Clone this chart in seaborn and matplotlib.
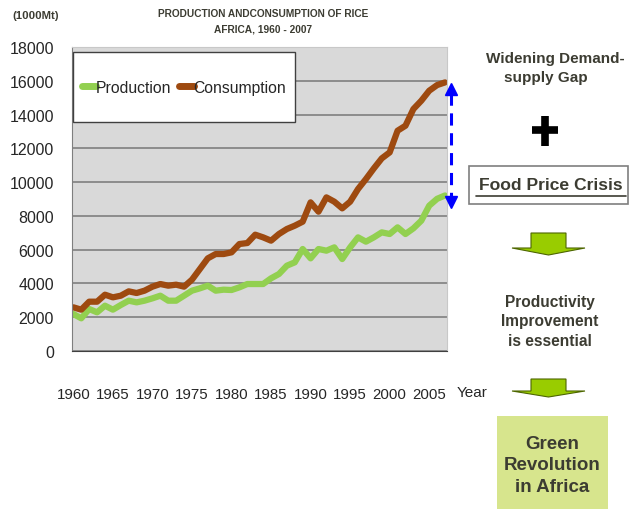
import numpy as np
import pandas as pd
import seaborn as sns
import matplotlib.pyplot as plt
from matplotlib.lines import Line2D
from matplotlib.patches import Polygon, Rectangle

# values (1000 Mt)
years = list(range(1960, 2008))
production = [2190, 1935, 2486, 2289, 2683, 2447, 2723, 2979, 2880, 2979,
              3117, 3275, 2979, 2979, 3275, 3572, 3710, 3868, 3572, 3631,
              3611, 3769, 3966, 3966, 3966, 4302, 4559, 5052, 5249, 6039,
              5486, 6039, 5940, 6137, 5446, 6137, 6729, 6473, 6729, 7025,
              6927, 7322, 6927, 7262, 7716, 8604, 9012, 9209]
consumption = [2587, 2447, 2920, 2920, 3335, 3177, 3275, 3532, 3434, 3572,
               3809, 3966, 3868, 3927, 3809, 4223, 4854, 5486, 5742, 5742,
               5841, 6334, 6393, 6887, 6729, 6532, 6927, 7223, 7420, 7657,
               8801, 8249, 9097, 8841, 8446, 8841, 9591, 10182, 10813, 11405,
               11760, 13043, 13339, 14326, 14819, 15411, 15746, 15904]
series_names = ['Production', 'Consumption']
series_colors = ['#92d050', '#9e4a10']
y_ticks = list(range(0, 18001, 2000))
x_labels = list(range(1960, 2006, 5))

sns.set_style('white')
plt.rcParams['font.family'] = ['Liberation Sans', 'DejaVu Sans']

W, H = 629, 510
TXT = '#3c3c32'


def fx(x):
    return x / W


def fy(y):
    return 1 - y / H


fig = plt.figure(figsize=(W / 100, H / 100), dpi=100)
ax = fig.add_axes([fx(72), fy(352), 375 / W, 304 / H])
ax.set_facecolor('#d9d9d9')

df = pd.DataFrame({
    'Year': years * 2,
    'Value': production + consumption,
    'Series': np.repeat(series_names, len(years)),
})
sns.lineplot(data=df, x='Year', y='Value', hue='Series', hue_order=series_names,
             palette=dict(zip(series_names, series_colors)), lw=4.5,
             ax=ax, legend=False)
for line in ax.get_lines():
    line.set_solid_capstyle('round')
    line.set_solid_joinstyle('round')

# axes
ax.set_xlim(1959.83, 2007.25)
ax.set_ylim(0, 18000)
ax.set_yticks(y_ticks)
ax.set_xticks(x_labels)
ax.set_xticks(years, minor=True)
ax.set_xlabel('')
ax.set_ylabel('')
ax.grid(axis='y', color='#7f7f7f', lw=1.2)
ax.set_axisbelow(True)
ax.tick_params(axis='y', direction='out', length=5, color='#7f7f7f',
               labelsize=11.5, pad=8)
ax.tick_params(axis='x', which='both', direction='inout', length=8,
               color='#404040', labelsize=10.8, pad=22)
for side in ['top', 'right']:
    ax.spines[side].set_color('#c8c8c8')
ax.spines['left'].set_color('#7f7f7f')
ax.spines['bottom'].set_color('#404040')

# legend: white box with the two entries centred inside
ax.add_patch(Rectangle((0.003, 0.753), 0.592, 0.23, transform=ax.transAxes,
                       fc='white', ec='#404040', lw=1.0, zorder=3))
handles = [Line2D([], [], color=c, lw=5, solid_capstyle='round') for c in series_colors]
leg = ax.legend(handles, series_names, loc='center', bbox_to_anchor=(0.299, 0.868),
                ncol=2, frameon=False, fontsize=11.3, handlelength=0.9,
                handletextpad=0.0, columnspacing=0.5, borderpad=0)
leg.set_zorder(4)

# titles and labels
fig.text(fx(36), fy(16), '(1000Mt)', ha='center', va='center', fontsize=8.2,
         fontweight='bold', color=TXT)
fig.text(fx(263), fy(14), 'PRODUCTION ANDCONSUMPTION OF RICE', ha='center',
         va='center', fontsize=7.3, fontweight='bold', color=TXT)
fig.text(fx(263), fy(30), 'AFRICA, 1960 - 2007', ha='center', va='center',
         fontsize=7.3, fontweight='bold', color=TXT)
fig.text(fx(472), fy(386), 'Year', ha='center', va='top', fontsize=11)

# gap arrow
fig.add_artist(Line2D([fx(451), fx(451)], [fy(94), fy(199)], color='#0000ff',
                      lw=2.2, dashes=(4, 2.5), transform=fig.transFigure))
fig.add_artist(Line2D([fx(451)], [fy(90)], marker='^', ms=8, color='#0000ff',
                      lw=0, transform=fig.transFigure))
fig.add_artist(Line2D([fx(451)], [fy(203)], marker='v', ms=8, color='#0000ff',
                      lw=0, transform=fig.transFigure))

# right-hand panel
fig.text(fx(555), fy(59), 'Widening Demand-', ha='center', va='center',
         fontsize=11, fontweight='bold', color=TXT)
fig.text(fx(546), fy(78), 'supply Gap', ha='center', va='center',
         fontsize=11, fontweight='bold', color=TXT)

fig.add_artist(Line2D([fx(545), fx(545)], [fy(117), fy(147)], color='black',
                      lw=5.5, solid_capstyle='butt', transform=fig.transFigure))
fig.add_artist(Line2D([fx(532), fx(558)], [fy(131), fy(131)], color='black',
                      lw=5.5, solid_capstyle='butt', transform=fig.transFigure))

fig.add_artist(Rectangle((fx(469), fy(205)), (628 - 469) / W, 38 / H, fc='white',
                         ec='#7f7f7f', lw=1.2, transform=fig.transFigure))
fig.text(fx(551), fy(186), 'Food Price Crisis', ha='center', va='center',
         fontsize=12.6, fontweight='bold', color=TXT)
fig.add_artist(Line2D([fx(476), fx(626)], [fy(197), fy(197)], color=TXT, lw=1.2,
                      transform=fig.transFigure))


def down_arrow(top, base, tip):
    pts = [(531, top), (566, top), (566, base), (585, base), (548.5, tip),
           (512, base), (531, base)]
    fig.add_artist(Polygon([(fx(x), fy(y)) for x, y in pts], closed=True,
                           fc='#99cc00', ec='#4d6600', lw=0.8,
                           transform=fig.transFigure))


down_arrow(234, 249, 256)
down_arrow(380, 392, 398)

fig.text(fx(550), fy(322), 'Productivity\nImprovement\nis essential', ha='center',
         va='center', fontsize=11.2, fontweight='bold', color=TXT, linespacing=1.4)

fig.add_artist(Rectangle((fx(497), fy(512)), 111 / W, 95 / H, fc='#d7e58d',
                         ec='none', transform=fig.transFigure))
fig.text(fx(552), fy(466), 'Green\nRevolution\nin Africa', ha='center',
         va='center', fontsize=13.5, fontweight='bold', color=TXT, linespacing=1.35)

fig.savefig('out.png', dpi=100)
